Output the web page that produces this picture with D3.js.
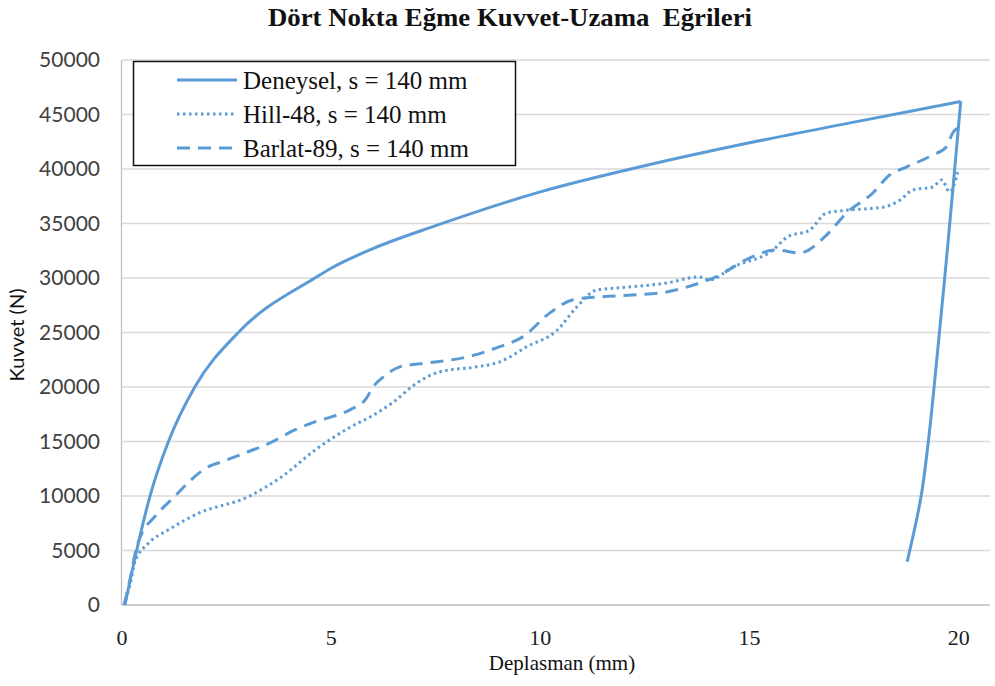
<!DOCTYPE html>
<html>
<head>
<meta charset="utf-8">
<script src="https://cdn.jsdelivr.net/npm/d3@7"></script>
<style>
  body { margin: 0; background: #fff; }
  svg { display: block; }
</style>
</head>
<body>
<svg width="995" height="686"></svg>
<script>
// data (Deplasman mm, Kuvvet N)
var denX = [0.07, 0.35, 0.67, 1.11, 1.74, 2.78, 4.61, 5, 6, 7.5, 10, 12.5, 15, 17.5, 20.05, 19.74, 19.43, 19.28, 19.1, 18.77];
var denY = [0, 5000, 10000, 15000, 20000, 25000, 30000, 30900, 32700, 34800, 37900, 40300, 42400, 44300, 46200, 33000, 20640, 15140, 9900, 3970];

var hillX = [0.05, 0.2, 0.31, 0.63, 1.11, 1.82, 3.02, 3.82, 4.61, 5.45, 6.0, 6.48, 7.05, 7.6, 8.48, 9.03, 9.68, 10.4, 10.87, 11.35, 11.83, 13.02, 13.8, 14.04, 14.6, 15.56, 15.9, 16.44, 16.84, 17.4, 18.2, 18.6, 18.9, 19.38, 19.6, 19.78, 19.98];
var hillY = [0, 2000, 3980, 5660, 6900, 8400, 9940, 11770, 14200, 16300, 17400, 18600, 20370, 21400, 21850, 22300, 23700, 25200, 27340, 28900, 29080, 29540, 30100, 29820, 31000, 32570, 33760, 34400, 35960, 36240, 36500, 37150, 38070, 38350, 39000, 37900, 39700];

var barX = [0.05, 0.2, 0.33, 0.5, 0.71, 1.0, 1.27, 1.6, 1.98, 2.5, 3.01, 3.5, 4.13, 4.61, 5.04, 5.45, 5.85, 6.0, 6.24, 6.64, 7.29, 8.24, 9.03, 9.58, 10.23, 10.78, 11.42, 12.21, 13.02, 13.81, 14.2, 15.0, 15.64, 16.2, 16.84, 17.32, 17.95, 18.35, 18.75, 19.38, 19.7, 19.86, 19.98];
var barY = [0, 2500, 5000, 6800, 7800, 9000, 10000, 11300, 12500, 13300, 14060, 14800, 16060, 16800, 17300, 17900, 19000, 20000, 20900, 21850, 22200, 22750, 23700, 24600, 26800, 28000, 28270, 28440, 28720, 29540, 30100, 31830, 32570, 32300, 33940, 35960, 37800, 39450, 40180, 41280, 42000, 43300, 43800];

var seriesNames = ["Deneysel, s = 140 mm", "Hill-48, s = 140 mm", "Barlat-89, s = 140 mm"];
var xTicks = [0, 5, 10, 15, 20];
var yTicks = [0, 5000, 10000, 15000, 20000, 25000, 30000, 35000, 40000, 45000, 50000];

var blue = "#5b9bd5";
var serif = "'Liberation Serif', 'Times New Roman', serif";
var sans = "Lato, 'Open Sans', sans-serif";

var svg = d3.select("svg");

var x = d3.scaleLinear().domain([0, 20.75]).range([122, 990]);
var y = d3.scaleLinear().domain([0, 50000]).range([605, 60]);

// gridlines
svg.append("g")
  .selectAll("line")
  .data(yTicks.slice(1))
  .enter().append("line")
  .attr("x1", x(0)).attr("x2", x(20.75))
  .attr("y1", function(d) { return y(d); })
  .attr("y2", function(d) { return y(d); })
  .attr("stroke", "#d9d9d9").attr("stroke-width", 1.3);

// axes lines
svg.append("line")
  .attr("x1", x(0)).attr("x2", x(20.75))
  .attr("y1", y(0)).attr("y2", y(0))
  .attr("stroke", "#bfbfbf").attr("stroke-width", 1.3);
svg.append("line")
  .attr("x1", x(0) - 0.5).attr("x2", x(0) - 0.5)
  .attr("y1", y(0)).attr("y2", y(50000))
  .attr("stroke", "#bfbfbf").attr("stroke-width", 1.3);

// tick labels
svg.append("g")
  .selectAll("text")
  .data(yTicks)
  .enter().append("text")
  .attr("x", 100)
  .attr("y", function(d) { return y(d); })
  .attr("dy", "0.35em")
  .attr("text-anchor", "end")
  .attr("font-family", sans)
  .attr("font-size", 21)
  .attr("fill", "#404040")
  .text(function(d) { return d; });

svg.append("g")
  .selectAll("text")
  .data(xTicks)
  .enter().append("text")
  .attr("x", function(d) { return x(d); })
  .attr("y", 637)
  .attr("dy", "0.35em")
  .attr("text-anchor", "middle")
  .attr("font-family", serif)
  .attr("font-size", 22)
  .attr("fill", "#202020")
  .text(function(d) { return d; });

// titles
svg.append("text")
  .attr("x", 510).attr("y", 26)
  .attr("text-anchor", "middle")
  .attr("font-family", serif)
  .attr("font-weight", "bold")
  .attr("font-size", 25)
  .attr("textLength", 484)
  .attr("lengthAdjust", "spacingAndGlyphs")
  .style("white-space", "pre")
  .attr("fill", "#111")
  .text("Dört Nokta Eğme Kuvvet-Uzama  Eğrileri");

svg.append("text")
  .attr("x", 562).attr("y", 670)
  .attr("text-anchor", "middle")
  .attr("font-family", serif)
  .attr("font-size", 21)
  .attr("fill", "#111")
  .text("Deplasman (mm)");

svg.append("text")
  .attr("transform", "translate(24,335) rotate(-90)")
  .attr("text-anchor", "middle")
  .attr("font-family", sans)
  .attr("font-size", 20)
  .attr("fill", "#111")
  .text("Kuvvet (N)");

// curves
var lineUp = d3.line()
  .x(function(d) { return x(d[0]); })
  .y(function(d) { return y(d[1]); })
  .curve(d3.curveMonotoneX);
var lineDown = d3.line()
  .x(function(d) { return x(d[0]); })
  .y(function(d) { return y(d[1]); })
  .curve(d3.curveCatmullRom.alpha(0.5));

var styles = [
  { dash: null },
  { dash: "2.5,3.5" },
  { dash: "13,8" }
];

// experimental curve: loading branch, then unloading branch after the peak
var den = d3.zip(denX, denY);
var peak = d3.maxIndex(denY);
var paths = [
  { d: lineUp(den.slice(0, peak + 1)), s: 0 },
  { d: lineDown(den.slice(peak)), s: 0 },
  { d: lineUp(d3.zip(hillX, hillY)), s: 1 },
  { d: lineUp(d3.zip(barX, barY)), s: 2 }
];

svg.append("g")
  .selectAll("path")
  .data(paths)
  .enter().append("path")
  .attr("d", function(p) { return p.d; })
  .attr("fill", "none")
  .attr("stroke", blue)
  .attr("stroke-width", 3)
  .attr("stroke-linejoin", "round")
  .attr("stroke-dasharray", function(p) { return styles[p.s].dash; });

// legend
var lg = svg.append("g");
lg.append("rect")
  .attr("x", 133.5).attr("y", 61.5)
  .attr("width", 382).attr("height", 104)
  .attr("fill", "#fff")
  .attr("stroke", "#111").attr("stroke-width", 1.5);

var rows = lg.selectAll("g.row")
  .data(seriesNames)
  .enter().append("g")
  .attr("class", "row")
  .attr("transform", function(d, i) { return "translate(0," + (80 + i * 34) + ")"; });

rows.append("line")
  .attr("x1", 177).attr("x2", 237)
  .attr("y1", 0).attr("y2", 0)
  .attr("stroke", blue).attr("stroke-width", 3)
  .attr("stroke-dasharray", function(d, i) { return styles[i].dash; });

rows.append("text")
  .attr("x", 243).attr("y", 0)
  .attr("dy", "0.35em")
  .attr("font-family", serif)
  .attr("font-size", 25)
  .attr("fill", "#111")
  .text(function(d) { return d; });
</script>
</body>
</html>
